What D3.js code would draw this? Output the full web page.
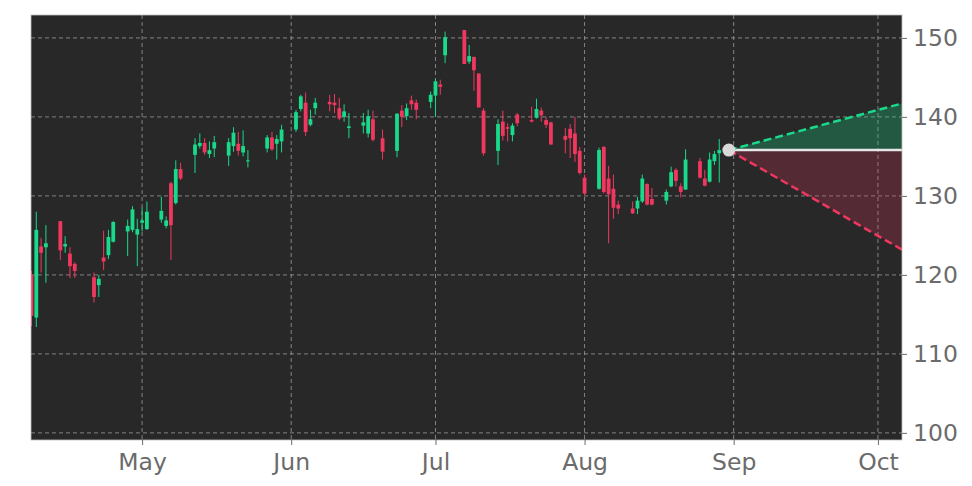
<!DOCTYPE html>
<html>
<head>
<meta charset="utf-8">
<script src="https://cdn.jsdelivr.net/npm/d3@7"></script>
<style>
  body { margin: 0; background: #ffffff; }
  svg { display: block; }
</style>
</head>
<body>
<svg id="chart"></svg>
<script>
// Daily candles (2025)
const dates = [
  "2025-04-08","2025-04-09","2025-04-10","2025-04-11","2025-04-14","2025-04-15","2025-04-16","2025-04-17",
  "2025-04-21","2025-04-22","2025-04-23","2025-04-24","2025-04-25","2025-04-28","2025-04-29","2025-04-30",
  "2025-05-01","2025-05-02","2025-05-05","2025-05-06","2025-05-07","2025-05-08","2025-05-09","2025-05-12",
  "2025-05-13","2025-05-14","2025-05-15","2025-05-16","2025-05-19","2025-05-20","2025-05-21","2025-05-22",
  "2025-05-23","2025-05-27","2025-05-28","2025-05-29","2025-05-30","2025-06-02","2025-06-03","2025-06-04",
  "2025-06-05","2025-06-06","2025-06-09","2025-06-10","2025-06-11","2025-06-12","2025-06-13","2025-06-16",
  "2025-06-17","2025-06-18","2025-06-20","2025-06-23","2025-06-24","2025-06-25","2025-06-26","2025-06-27",
  "2025-06-30","2025-07-01","2025-07-02","2025-07-03","2025-07-07","2025-07-08","2025-07-09","2025-07-10",
  "2025-07-11","2025-07-14","2025-07-15","2025-07-16","2025-07-17","2025-07-18","2025-07-21","2025-07-22",
  "2025-07-23","2025-07-24","2025-07-25","2025-07-28","2025-07-29","2025-07-30","2025-07-31","2025-08-01",
  "2025-08-04","2025-08-05","2025-08-06","2025-08-07","2025-08-08","2025-08-11","2025-08-12","2025-08-13",
  "2025-08-14","2025-08-15","2025-08-18","2025-08-19","2025-08-20","2025-08-21","2025-08-22","2025-08-25",
  "2025-08-26","2025-08-27","2025-08-28","2025-08-29"
];
const opens = [
  120.0,114.6,123.6,123.5,126.8,123.6,122.7,121.4,119.7,118.7,122.2,122.5,124.2,125.5,125.7,125.1,
  126.6,125.8,127.0,126.2,131.6,129.1,133.4,135.2,136.3,136.7,135.3,136.0,135.1,136.3,136.6,135.5,
  134.4,136.0,137.4,136.6,136.9,138.4,141.0,141.8,139.0,141.1,141.9,141.8,141.1,140.0,138.6,138.9,
  137.9,139.7,137.3,135.7,140.8,140.1,142.1,141.8,141.9,142.7,144.1,147.8,151.0,147.0,147.6,145.5,
  140.8,135.7,139.4,138.7,137.7,140.3,139.6,139.9,140.8,139.6,139.3,137.6,138.5,137.9,135.7,132.3,
  130.9,136.2,132.2,130.9,128.9,128.4,128.4,129.3,131.5,129.6,129.4,131.2,133.3,131.2,130.8,134.4,
  132.2,131.8,134.4,135.4
];
const highs = [
  120.5,128.0,124.7,126.3,126.8,124.9,123.5,121.6,120.3,120.0,125.6,125.7,126.8,127.0,128.7,127.1,
  128.5,129.3,129.9,127.4,131.8,134.5,134.2,137.3,137.9,137.3,136.9,137.6,137.3,138.7,138.1,138.3,
  135.8,137.7,138.1,137.7,139.0,140.9,142.8,143.1,140.9,142.4,142.8,142.9,142.4,141.6,140.5,140.5,
  140.9,140.8,138.4,140.5,141.5,141.7,142.7,142.2,143.2,144.8,144.7,150.8,151.0,149.1,147.6,145.5,
  141.1,139.7,140.8,139.2,139.2,140.5,141.3,142.3,141.2,140.0,139.4,138.6,139.1,140.0,136.2,132.7,
  136.1,136.3,133.8,132.7,129.4,129.3,129.9,132.7,131.6,131.0,130.8,133.7,133.5,131.6,135.9,134.8,
  133.3,135.5,135.7,137.2
];
const lows = [
  113.5,113.4,120.3,119.0,121.9,122.8,119.6,119.6,116.5,117.2,120.6,122.0,124.1,122.4,125.4,121.1,
  125.5,125.7,126.6,125.9,121.9,128.9,132.0,132.9,136.0,135.2,134.8,134.9,133.8,135.6,135.1,135.0,
  133.6,135.5,135.7,134.6,135.5,138.1,140.7,137.6,138.8,140.3,140.7,140.5,139.6,139.4,137.3,137.9,
  137.4,136.9,134.6,134.9,138.7,139.6,140.9,139.7,141.1,140.0,142.8,146.8,146.7,146.7,143.3,141.2,
  135.1,133.9,137.0,136.9,136.9,138.8,139.3,139.8,139.4,138.6,136.5,135.4,134.8,134.3,132.7,130.1,
  130.8,130.3,124.0,127.1,127.7,127.7,127.7,129.1,128.8,128.8,128.9,131.1,131.2,129.8,130.8,132.2,
  131.2,131.7,133.9,131.7
];
const closes = [
  114.8,125.7,122.8,124.0,123.1,123.9,121.1,120.5,117.2,119.5,121.7,124.8,126.7,126.2,128.3,125.8,
  126.9,128.0,128.1,126.9,126.3,133.4,132.2,136.5,136.7,135.5,135.8,136.8,136.8,138.0,135.7,136.3,
  134.5,137.4,135.9,137.2,138.4,140.6,142.6,138.1,139.7,141.8,141.6,141.5,139.8,140.7,138.8,139.3,
  140.1,137.1,135.6,140.4,140.0,141.1,141.6,140.9,142.8,144.5,143.8,150.1,146.7,147.7,145.9,141.2,
  135.4,139.1,137.6,138.5,138.9,139.2,139.4,141.0,140.2,139.0,136.5,137.1,137.3,135.3,132.9,130.3,
  135.8,130.5,130.2,128.5,128.4,127.8,129.4,132.2,128.9,128.9,130.5,133.0,131.9,130.5,134.6,132.3,
  131.3,134.6,135.3,135.8
];

// Projection cone from the last close out to the right edge
const projDates = ["2025-08-31", "2025-10-06"];
const projMid = [135.8, 135.8];
const projUp = [135.8, 141.7];
const projDown = [135.8, 123.2];

// Axis ticks
const yTicks = [100, 110, 120, 130, 140, 150];

const width = 972;
const height = 486;
const margin = { top: 15, right: 70, bottom: 46, left: 31 };

const parse = d3.timeParse("%Y-%m-%d");
const candles = dates.map((d, i) => ({
  date: parse(d), o: opens[i], h: highs[i], l: lows[i], c: closes[i]
}));

const svg = d3.select("#chart")
  .attr("width", width)
  .attr("height", height)
  .style("font-family", "DejaVu Sans, sans-serif");

const x = d3.scaleTime()
  .domain([new Date(2025, 3, 7, 21, 36), new Date(2025, 9, 6, 0, 0)])
  .range([margin.left, width - margin.right]);

const y = d3.scaleLinear()
  .domain([99.1, 152.9])
  .range([height - margin.bottom, margin.top]);

const up = "#19d98b";
const down = "#f0375f";
const textColor = "#6b6b6b";

// plot background
svg.append("rect")
  .attr("x", margin.left)
  .attr("y", margin.top)
  .attr("width", width - margin.left - margin.right)
  .attr("height", height - margin.top - margin.bottom)
  .attr("fill", "#282828");

svg.append("clipPath").attr("id", "plot-clip")
  .append("rect")
  .attr("x", margin.left)
  .attr("y", margin.top)
  .attr("width", width - margin.left - margin.right)
  .attr("height", height - margin.top - margin.bottom);

// gridlines
const grid = svg.append("g");
grid.selectAll("line.h")
  .data(yTicks)
  .join("line")
  .attr("x1", margin.left)
  .attr("x2", width - margin.right)
  .attr("y1", d => y(d))
  .attr("y2", d => y(d))
  .attr("stroke", "#9a9a9a")
  .attr("stroke-width", 0.8)
  .attr("stroke-dasharray", "4,3");

const monthTicks = x.ticks(d3.timeMonth.every(1));
grid.selectAll("line.v")
  .data(monthTicks)
  .join("line")
  .attr("x1", d => x(d))
  .attr("x2", d => x(d))
  .attr("y1", margin.top)
  .attr("y2", height - margin.bottom)
  .attr("stroke", "#9a9a9a")
  .attr("stroke-width", 0.8)
  .attr("stroke-dasharray", "4,3");

const plot = svg.append("g").attr("clip-path", "url(#plot-clip)");

// candles
const bodyW = 3.8;
const candle = plot.selectAll("g.candle")
  .data(candles)
  .join("g");

candle.append("line")
  .attr("x1", d => x(d.date))
  .attr("x2", d => x(d.date))
  .attr("y1", d => y(d.h))
  .attr("y2", d => y(d.l))
  .attr("stroke", d => d.c >= d.o ? up : down)
  .attr("stroke-width", 1);

candle.append("rect")
  .attr("x", d => x(d.date) - bodyW / 2)
  .attr("width", bodyW)
  .attr("y", d => y(Math.max(d.o, d.c)))
  .attr("height", d => Math.max(1, Math.abs(y(d.o) - y(d.c))))
  .attr("fill", d => d.c >= d.o ? up : down);

// projection cone
const proj = projDates.map((d, i) => ({
  date: parse(d), mid: projMid[i], up: projUp[i], down: projDown[i]
}));

plot.append("path")
  .datum(proj)
  .attr("fill", up)
  .attr("fill-opacity", 0.28)
  .attr("d", d3.area()
    .x(d => x(d.date))
    .y0(d => y(d.mid))
    .y1(d => y(d.up)));

plot.append("path")
  .datum(proj)
  .attr("fill", down)
  .attr("fill-opacity", 0.22)
  .attr("d", d3.area()
    .x(d => x(d.date))
    .y0(d => y(d.mid))
    .y1(d => y(d.down)));

plot.append("path")
  .datum(proj)
  .attr("fill", "none")
  .attr("stroke", "#e6e6e6")
  .attr("stroke-width", 2.5)
  .attr("d", d3.line().x(d => x(d.date)).y(d => y(d.mid)));

plot.append("path")
  .datum(proj)
  .attr("fill", "none")
  .attr("stroke", up)
  .attr("stroke-width", 2.5)
  .attr("stroke-dasharray", "8,4")
  .attr("d", d3.line().x(d => x(d.date)).y(d => y(d.up)));

plot.append("path")
  .datum(proj)
  .attr("fill", "none")
  .attr("stroke", down)
  .attr("stroke-width", 2.5)
  .attr("stroke-dasharray", "8,4")
  .attr("d", d3.line().x(d => x(d.date)).y(d => y(d.down)));

plot.append("circle")
  .attr("cx", x(proj[0].date))
  .attr("cy", y(proj[0].mid))
  .attr("r", 6.5)
  .attr("fill", "#d9d9d9");

// frame
svg.append("rect")
  .attr("x", margin.left)
  .attr("y", margin.top)
  .attr("width", width - margin.left - margin.right)
  .attr("height", height - margin.top - margin.bottom)
  .attr("fill", "none")
  .attr("stroke", "#bdbdbd")
  .attr("stroke-width", 0.8);

// right axis
const yAxis = svg.append("g")
  .attr("transform", `translate(${width - margin.right},0)`)
  .call(d3.axisRight(y).tickValues(yTicks).tickSize(5).tickPadding(6));

// bottom axis
const xAxis = svg.append("g")
  .attr("transform", `translate(0,${height - margin.bottom})`)
  .call(d3.axisBottom(x).ticks(d3.timeMonth.every(1)).tickFormat(d3.timeFormat("%b")).tickSize(5).tickPadding(8));

[yAxis, xAxis].forEach(ax => {
  ax.select(".domain").remove();
  ax.selectAll(".tick line").attr("stroke", textColor);
  ax.selectAll(".tick text")
    .attr("fill", textColor)
    .style("font-size", "23.5px")
    .style("font-family", "DejaVu Sans, sans-serif");
});
</script>
</body>
</html>
